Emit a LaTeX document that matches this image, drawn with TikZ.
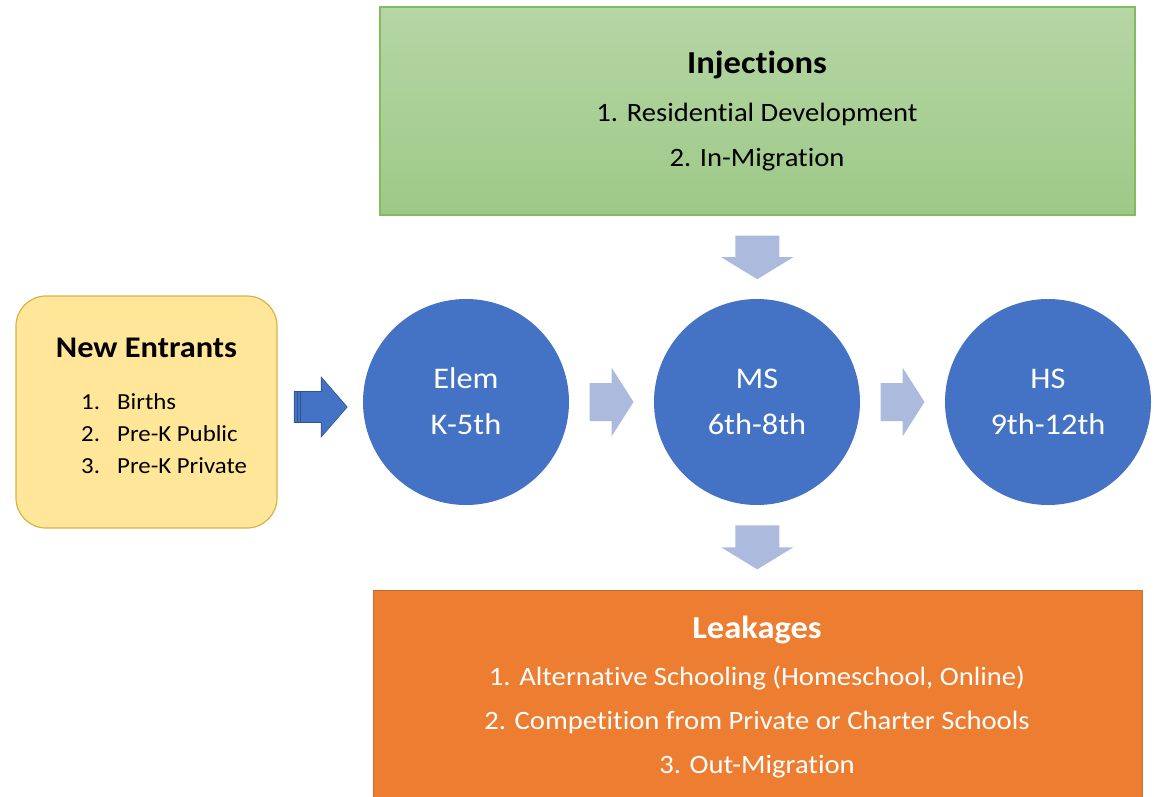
\documentclass[tikz,border=0pt]{standalone}
\usepackage{fontspec}
\setmainfont{Carlito}[FakeStretch=1.08, Ligatures=NoCommon]
\usetikzlibrary{calc}
\definecolor{injtop}{RGB}{182,214,165}
\definecolor{injbot}{RGB}{157,201,135}
\definecolor{injline}{RGB}{130,188,95}
\definecolor{nefill}{RGB}{255,230,153}
\definecolor{neline}{RGB}{214,178,72}
\definecolor{circblue}{RGB}{68,114,196}
\definecolor{darkblue}{RGB}{47,82,143}
\definecolor{lightarr}{RGB}{172,186,222}
\definecolor{leakfill}{RGB}{237,125,49}
\definecolor{leakline}{RGB}{200,110,50}
\tikzset{
  injbox/.style={draw=injline, line width=1.2pt, top color=injtop, bottom color=injbot, minimum width=755, minimum height=208, inner sep=0},
  nebox/.style={draw=neline, line width=1.2pt, fill=nefill, rounded corners=30, minimum width=261, minimum height=232, inner sep=0},
  leakbox/.style={draw=leakline, line width=1pt, fill=leakfill, minimum width=769, minimum height=215, inner sep=0},
  stage/.style={circle, fill=circblue, minimum size=206, inner sep=0},
  titletxt/.style={font=\fontsize{32}{36}\selectfont\bfseries, inner sep=0, anchor=base},
  bodytxt/.style={font=\fontsize{26.5}{30}\selectfont, inner sep=0, anchor=base},
  stagetxt/.style={font=\fontsize{30}{34}\selectfont, text=white, inner sep=0, anchor=base},
  netitle/.style={font=\fontsize{30}{34}\selectfont\bfseries, inner sep=0, anchor=base},
  netxt/.style={font=\fontsize{23}{28}\selectfont, inner sep=0, anchor=base west},
  lightarrow/.style={fill=lightarr},
  darkarrow/.style={fill=circblue, draw=darkblue, line width=0.6pt},
}
\begin{document}
\begin{tikzpicture}[x=1pt,y=-1pt]
\useasboundingbox (0,0) rectangle (1154,797);
\begin{scope}
\clip (0,0) rectangle (1154,797);
% boxes
\node[injbox] (inj) at (757.5,111) {};
\node[nebox] (ne) at (146.5,412) {};
\node[leakbox] (leak) at (757.5,697.5) {};
% circles
\node[stage] (elem) at (466,402) {};
\node[stage] (ms) at (757,402) {};
\node[stage] (hs) at (1048,402) {};
% texts
\node[titletxt] (injt) at (757,74) {Injections};
\node[bodytxt] (inj1) at (757,122) {1. Residential Development};
\node[bodytxt] (inj2) at (757,167) {2. In-Migration};
\node[titletxt, text=white] (leakt) at (757,638) {Leakages};
\node[bodytxt, text=white] (leak1) at (757,685) {1. Alternative Schooling (Homeschool, Online)};
\node[bodytxt, text=white] (leak2) at (757,729) {2. Competition from Private or Charter Schools};
\node[bodytxt, text=white] (leak3) at (757,773) {3. Out-Migration};
\node[stagetxt] (elem1) at (466,388) {Elem};
\node[stagetxt] (elem2) at (466,434) {K-5th};
\node[stagetxt] (ms1) at (757,388) {MS};
\node[stagetxt] (ms2) at (757,434) {6th-8th};
\node[stagetxt] (hs1) at (1048,388) {HS};
\node[stagetxt] (hs2) at (1048,434) {9th-12th};
\node[netitle] (net) at (146.5,357) {New Entrants};
\node[netxt] (n1) at (81,409) {1.};
\node[netxt] (n2) at (81,441) {2.};
\node[netxt] (n3) at (81,473) {3.};
\node[netxt] (t1) at (117,409) {Births};
\node[netxt] (t2) at (117,441) {Pre-K Public};
\node[netxt] (t3) at (117,473) {Pre-K Private};
\end{scope}
% arrows
\coordinate (a0) at ($(ne.east)!0.5!(elem.west)$);
\coordinate (a1) at ($(elem.east)!0.5!(ms.west)$);
\coordinate (a2) at ($(ms.east)!0.5!(hs.west)$);
\coordinate (a3) at ($(inj.south)!0.5!(ms.north)$);
\coordinate (a4) at ($(ms.south)!0.5!(leak.north)$);
\fill[lightarrow, shift={(a1)}] (-22,-19) -- (0,-19) -- (0,-34.5) -- (22,0) -- (0,34.5) -- (0,19) -- (-22,19) -- cycle;
\fill[lightarrow, shift={(a2)}] (-22,-19) -- (0,-19) -- (0,-34.5) -- (22,0) -- (0,34.5) -- (0,19) -- (-22,19) -- cycle;
\fill[lightarrow, shift={(a3)}] (-22,-21.5) -- (22,-21.5) -- (22,0) -- (36,0) -- (0,22) -- (-36,0) -- (-22,0) -- cycle;
\fill[lightarrow, shift={(a4)}] (-22,-22) -- (22,-22) -- (22,0) -- (36,0) -- (0,22) -- (-36,0) -- (-22,0) -- cycle;
\begin{scope}[shift={(a0)}]
\draw[darkarrow] (-26,-15.5) -- (1,-15.5) -- (1,-30) -- (27,0) -- (1,30) -- (1,15.5) -- (-26,15.5) -- cycle;
\draw[darkblue, line width=0.6pt] (-22.5,-15.5) -- (-22.5,15.5);
\draw[darkblue, line width=0.6pt] (-19.5,-15.5) -- (-19.5,15.5);
\end{scope}
\end{tikzpicture}
\end{document}
